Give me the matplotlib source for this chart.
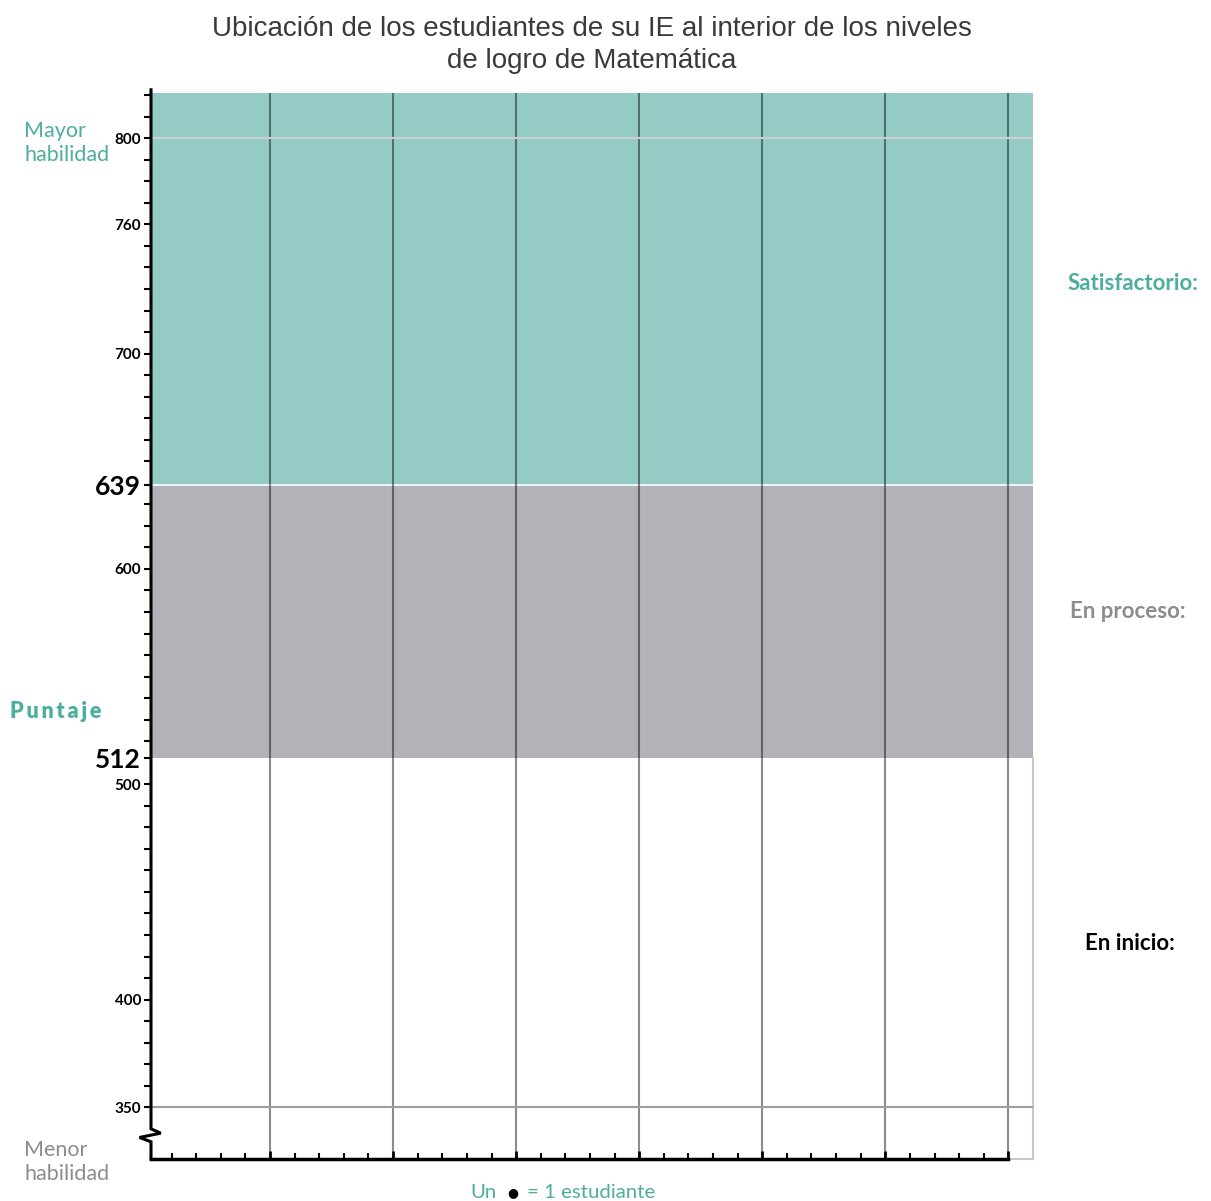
import matplotlib
matplotlib.use("Agg")
import matplotlib.pyplot as plt
from matplotlib.ticker import FixedLocator

# Achievement levels (bottom to top) and the cut scores that separate them
LEVELS = ['En inicio:', 'En proceso:', 'Satisfactorio:']
LEVEL_COLORS = ['#ffffff', '#b3b2b8', '#94ccc5']
LEVEL_TEXT = ['#000000', '#8c8c8c', '#4dae9f']
CUT_SCORES = [512, 639]

SCORE_TICKS = [350, 400, 500, 600, 700, 760, 800]
SCORE_MIN, SCORE_MAX = 326, 821
N_STUDENTS = 35
COL_STEP = 5

TEAL = '#4dae9f'
W, H = 1211, 1201

fig = plt.figure(figsize=(W / 100, H / 100), dpi=100)
ax = fig.add_axes([151 / W, 42 / H, (1033 - 151) / W, (1159 - 93) / H])
x0 = 0.163
ax.set_xlim(x0, N_STUDENTS + 1)
ax.set_ylim(SCORE_MIN, SCORE_MAX)

# level bands
ax.axhspan(CUT_SCORES[1], SCORE_MAX, color=LEVEL_COLORS[2], lw=0, zorder=0)
ax.axhspan(CUT_SCORES[0], CUT_SCORES[1], color=LEVEL_COLORS[1], lw=0, zorder=0)
ax.axhline(CUT_SCORES[1], color='white', lw=1.2, zorder=1)

# light frame around the white part
ax.plot([N_STUDENTS + 1] * 2, [SCORE_MIN, CUT_SCORES[0]], color='#c8c8cc', lw=1.5, clip_on=False, zorder=1)
ax.plot([N_STUDENTS, N_STUDENTS + 1], [SCORE_MIN, SCORE_MIN], color='#c8c8cc', lw=1.5, clip_on=False, zorder=1)

# column lines
for x in range(COL_STEP, N_STUDENTS + 1, COL_STEP):
    ax.axvline(x, color='black', alpha=0.45, lw=1.5, zorder=2)
ax.axhline(800, color='#c9d1d0', lw=1.5, zorder=3)
ax.axhline(350, color='#9d9d9d', lw=1.5, zorder=3)

# axes lines: left one with a break mark below 350
for s in ['top', 'right', 'left']:
    ax.spines[s].set_visible(False)
ax.spines['bottom'].set_bounds(x0, N_STUDENTS)
ax.spines['bottom'].set_linewidth(2.5)
ax.spines['bottom'].set_zorder(5)
yt = ax.get_yaxis_transform()
ax.plot([0, 0, 0.011, -0.013, 0, 0], [822.5, 340, 338, 336, 334, SCORE_MIN],
        color='black', lw=2.2, transform=yt, clip_on=False, zorder=5,
        solid_joinstyle='miter')

# y ticks
majors = sorted(SCORE_TICKS + CUT_SCORES)
ax.set_yticks(majors)
ax.set_yticklabels([str(v) for v in majors])
minors = [v for v in range(360, 821, 10)
          if v not in majors and all(abs(v - c) > 3 for c in CUT_SCORES)]
ax.yaxis.set_minor_locator(FixedLocator(minors))
ax.tick_params(axis='y', which='both', direction='out', length=5, width=1.5, pad=2)
for lab in ax.get_yticklabels():
    lab.set_family('Lato')
    lab.set_fontweight('bold')
    big = int(lab.get_text()) in CUT_SCORES
    lab.set_fontsize(19 if big else 11)

# x ticks
ax.set_xticks(range(COL_STEP, N_STUDENTS + 1, COL_STEP))
ax.xaxis.set_minor_locator(FixedLocator([v for v in range(1, N_STUDENTS) if v % COL_STEP]))
ax.tick_params(axis='x', which='major', direction='in', length=6, width=2, labelbottom=False)
ax.tick_params(axis='x', which='minor', direction='in', length=4, width=1.5)

# title
fig.text(592 / W, 1 - 45 / H,
         'Ubicación de los estudiantes de su IE al interior de los niveles\nde logro de Matemática',
         ha='center', va='center', fontsize=20, color='#3a3a3a',
         family='Liberation Sans', linespacing=1.25)

# left side labels
fig.text(24 / W, 1 - 143 / H, 'Mayor\nhabilidad', ha='left', va='center',
         fontsize=15.5, color=TEAL, family='Lato', linespacing=1.3)
fig.text(24 / W, 1 - 1162 / H, 'Menor\nhabilidad', ha='left', va='center',
         fontsize=15.5, color='#8c8c8c', family='Lato', linespacing=1.3)
fig.text(10 / W, 1 - 711 / H, 'P u n t a j e'.replace(' ', '\u2009'), ha='left', va='center',
         fontsize=15.5, color=TEAL, family=['Lato', 'DejaVu Sans'], fontweight='heavy')

# level names on the right
for name, col, xpx, ypx in zip(LEVELS, LEVEL_TEXT, [1130, 1128, 1133], [943, 611, 283]):
    fig.text(xpx / W, 1 - ypx / H, name, ha='center', va='center',
             fontsize=16, color=col, family='Lato', fontweight='bold')

# legend for the student dots
fig.text(470 / W, 1 - 1192 / H, 'Un', ha='left', va='center', fontsize=14.7, color=TEAL, family='Lato')
fig.text(513 / W, 1 - 1193 / H, '\u25cf', ha='center', va='center', fontsize=9, color='black')
fig.text(527 / W, 1 - 1192 / H, '= 1 estudiante', ha='left', va='center', fontsize=14.7, color=TEAL, family='Lato')

fig.savefig('out.png', dpi=100)
